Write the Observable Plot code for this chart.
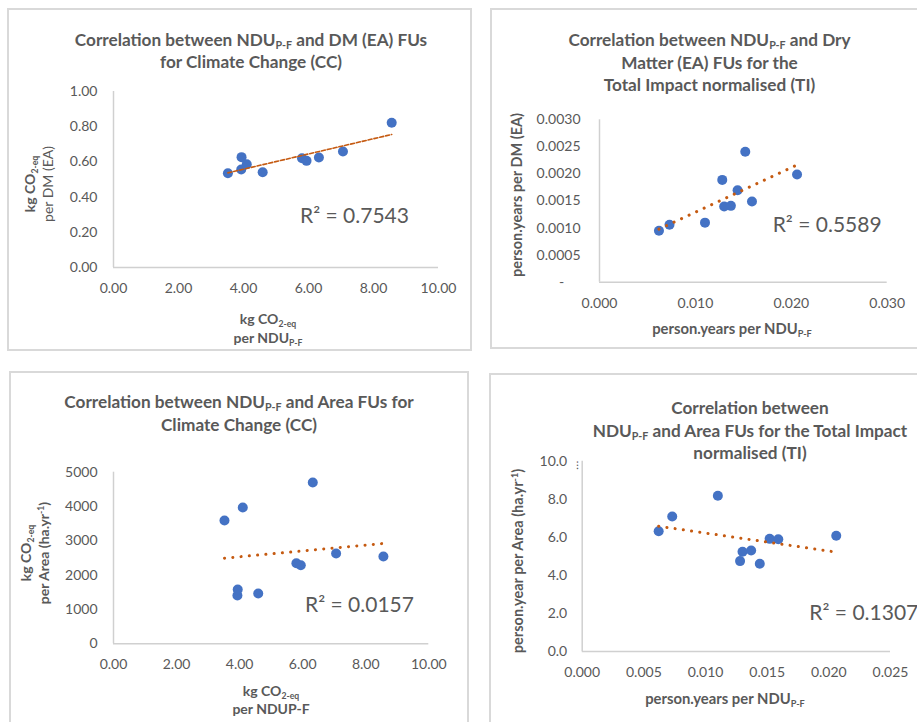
<!DOCTYPE html>
<html><head><meta charset="utf-8">
<script src="https://cdn.jsdelivr.net/npm/d3@7"></script>
<script src="https://cdn.jsdelivr.net/npm/@observablehq/plot@0.6"></script>
<style>
body{margin:0;background:#fff;font-family:Lato,"Open Sans",sans-serif;color:#595959}
#page{position:relative;width:917px;height:722px;overflow:hidden;background:#fff}
.box{position:absolute;border:2px solid #d9d9d9;box-sizing:border-box}
.t{position:absolute;white-space:nowrap;text-align:center;transform:translateX(-50%)}
.title{font-weight:bold;font-size:17.2px;line-height:22.5px}
.ax{font-weight:bold;font-size:14px}
.rot{position:absolute;white-space:nowrap;text-align:center;font-size:14px;transform:translate(-50%,-50%) rotate(-90deg)}
sub{font-size:0.62em;vertical-align:-0.3em;line-height:0}
sup{font-size:0.62em;vertical-align:0.55em;line-height:0}
.r2{position:absolute;font-size:21px;line-height:21px;white-space:nowrap}
</style></head>
<body><div id="page"></div>
<script>
// ---- data ----
const ccX   = [3.52, 3.93, 3.94, 4.10, 4.59, 5.80, 5.94, 6.32, 7.06, 8.56];          // kg CO2-eq per NDU P-F
const ccDM  = [0.536, 0.557, 0.627, 0.587, 0.541, 0.621, 0.606, 0.625, 0.659, 0.822]; // per DM (EA)
const ccArea= [3593, 1407, 1582, 3970, 1466, 2349, 2291, 4700, 2630, 2543];           // per Area
const tiX   = [0.0062, 0.0073, 0.0110, 0.0128, 0.0130, 0.0137, 0.0144, 0.0152, 0.0159, 0.0206];
const tiDM  = [0.00095, 0.00106, 0.00110, 0.00189, 0.00140, 0.00141, 0.00170, 0.00241, 0.00149, 0.00199];
const tiArea= [6.32, 7.09, 8.18, 4.75, 5.24, 5.31, 4.61, 5.92, 5.90, 6.08];
const r2Labels = ["R² = 0.7543", "R² = 0.5589", "R² = 0.0157", "R² = 0.1307"];
const ccXTicks = [0, 2, 4, 6, 8, 10];
const ccDMTicks = [0, 0.2, 0.4, 0.6, 0.8, 1.0];
const ccAreaTicks = [0, 1000, 2000, 3000, 4000, 5000];
const tiDMXTicks = [0, 0.01, 0.02, 0.03];
const tiDMTicks = [0, 0.0005, 0.001, 0.0015, 0.002, 0.0025, 0.003];
const tiAreaXTicks = [0, 0.005, 0.01, 0.015, 0.02, 0.025];
const tiAreaTicks = [0, 2, 4, 6, 8, 10];

const page = document.getElementById("page");
const rows = (xs, ys) => xs.map((x, i) => ({x, y: ys[i]}));
const dashed = {strokeWidth: 1.6, strokeDasharray: "4,2"};
const dotted = {strokeWidth: 3, strokeDasharray: "0.1,8.2", strokeLinecap: "round"};

function panel(o) {
  const svg = Plot.plot({
    width: o.width, height: o.height,
    marginLeft: o.ml, marginRight: o.mr, marginTop: o.mt, marginBottom: o.mb,
    style: {fontFamily: "Lato, 'Open Sans', sans-serif", fontSize: "14px", color: "#595959", background: "transparent", overflow: "visible"},
    x: {domain: o.xDomain, ticks: o.xTicks, tickFormat: o.xFmt, tickSize: 0, tickPadding: o.xPad, label: null},
    y: {domain: o.yDomain, ticks: o.yTicks, tickFormat: o.yFmt, tickSize: 0, tickPadding: o.yPad, label: null},
    marks: [
      Plot.ruleX([o.xDomain[0]], {stroke: "#d0d0d0", strokeWidth: 1.5}),
      Plot.ruleY([o.yDomain[0]], {stroke: "#d0d0d0", strokeWidth: 1.5}),
      Plot.dot(o.data, {x: "x", y: "y", r: 5, fill: "#4472C4"}),
      Plot.linearRegressionY(o.data, {x: "x", y: "y", ci: 0, stroke: "#C55A11", ...o.line})
    ]
  });
  svg.style.position = "absolute";
  svg.style.left = o.left + "px";
  svg.style.top = o.top + "px";
  page.appendChild(svg);
}

function box(l, t, w, h) {
  const d = document.createElement("div");
  d.className = "box";
  Object.assign(d.style, {left: l + "px", top: t + "px", width: w + "px", height: h + "px"});
  page.appendChild(d);
}
function html(cls, style, content) {
  const d = document.createElement("div");
  d.className = cls;
  Object.assign(d.style, style);
  d.innerHTML = content;
  page.appendChild(d);
}

box(7, 8, 465, 343);
box(490, 8, 440, 341);
box(9, 371, 460, 360);
box(489, 373, 440, 360);

panel({left: 7, top: 8, width: 465, height: 343, ml: 106, mr: 34, mt: 83, mb: 84,
  xDomain: [0, 10], xTicks: ccXTicks, xFmt: d3.format(".2f"), xPad: 16,
  yDomain: [0, 1], yTicks: ccDMTicks, yFmt: d3.format(".2f"), yPad: 16,
  data: rows(ccX, ccDM), line: dashed});

panel({left: 490, top: 8, width: 427, height: 341, ml: 109, mr: 30.3, mt: 111.3, mb: 67.3,
  xDomain: [0, 0.03], xTicks: tiDMXTicks, xFmt: d3.format(".3f"), xPad: 16,
  yDomain: [0, 0.003], yTicks: tiDMTicks, yFmt: d => d === 0 ? "-\u2007\u2007" : d3.format(".4f")(d), yPad: 19,
  data: rows(tiX, tiDM), line: dotted});

panel({left: 9, top: 371, width: 460, height: 351, ml: 104, mr: 40.7, mt: 100.7, mb: 78.7,
  xDomain: [0, 10], xTicks: ccXTicks, xFmt: d3.format(".2f"), xPad: 15.5,
  yDomain: [0, 5000], yTicks: ccAreaTicks, yFmt: d3.format("d"), yPad: 16,
  data: rows(ccX, ccArea), line: dotted});

panel({left: 489, top: 373, width: 428, height: 349, ml: 92.7, mr: 27, mt: 87.7, mb: 71,
  xDomain: [0, 0.025], xTicks: tiAreaXTicks, xFmt: d3.format(".3f"), xPad: 16,
  yDomain: [0, 10], yTicks: tiAreaTicks, yFmt: d3.format(".1f"), yPad: 15,
  data: rows(tiX, tiArea), line: dotted});

// titles
html("t title", {left: "251px", top: "28.7px"}, "Correlation between NDU<sub>P-F</sub> and DM (EA) FUs<br>for Climate Change (CC)");
html("t title", {left: "709.5px", top: "29.4px"}, "Correlation between NDU<sub>P-F</sub> and Dry<br>Matter (EA) FUs for the<br>Total Impact normalised (TI)");
html("t title", {left: "239px", top: "391.4px"}, "Correlation between NDU<sub>P-F</sub> and Area FUs for<br>Climate Change (CC)");
html("t title", {left: "750px", top: "397px"}, "Correlation between<br>NDU<sub>P-F</sub> and Area FUs for the Total Impact<br>normalised (TI)");

// x axis titles
html("t ax", {left: "268px", top: "308.5px", lineHeight: "19px"}, "kg CO<sub>2-eq</sub><br>per NDU<sub>P-F</sub>");
html("t ax", {left: "732px", top: "319px", lineHeight: "18px", fontSize: "14.8px"}, "person.years per NDU<sub>P-F</sub>");
html("t ax", {left: "271px", top: "682px", lineHeight: "18px"}, "kg CO<sub>2-eq</sub><br>per NDUP-F");
html("t ax", {left: "725px", top: "688.7px", lineHeight: "18px", fontSize: "14.8px"}, "person.years per NDU<sub>P-F</sub>");

// y axis titles
html("rot", {left: "39px", top: "184px", lineHeight: "18px"}, "<b>kg CO<sub>2-eq</sub></b><br>per DM (EA)");
html("rot", {left: "516.7px", top: "195px", lineHeight: "18px", fontWeight: "bold", fontSize: "14.5px"}, "person.years per DM (EA)");
html("rot", {left: "34.5px", top: "553px", lineHeight: "18px", fontWeight: "bold"}, "kg CO<sub>2-eq</sub><br>per Area (ha.yr<sup>-1</sup>)");
html("rot", {left: "518.3px", top: "561px", lineHeight: "18px", fontWeight: "bold", fontSize: "14.5px"}, "person.year per Area (ha.yr<sup>-1</sup>)");

// R² labels
html("r2", {left: "300px", top: "204.3px"}, r2Labels[0]);
html("r2", {left: "772.7px", top: "213px"}, r2Labels[1]);
html("r2", {left: "305px", top: "592.8px"}, r2Labels[2]);
html("r2", {left: "809.3px", top: "601.2px"}, r2Labels[3]);

// small artifact near the 10.0 tick
html("r2", {left: "576px", top: "459px", fontSize: "11px", lineHeight: "11px"}, "\u205D");
</script>
</body></html>
